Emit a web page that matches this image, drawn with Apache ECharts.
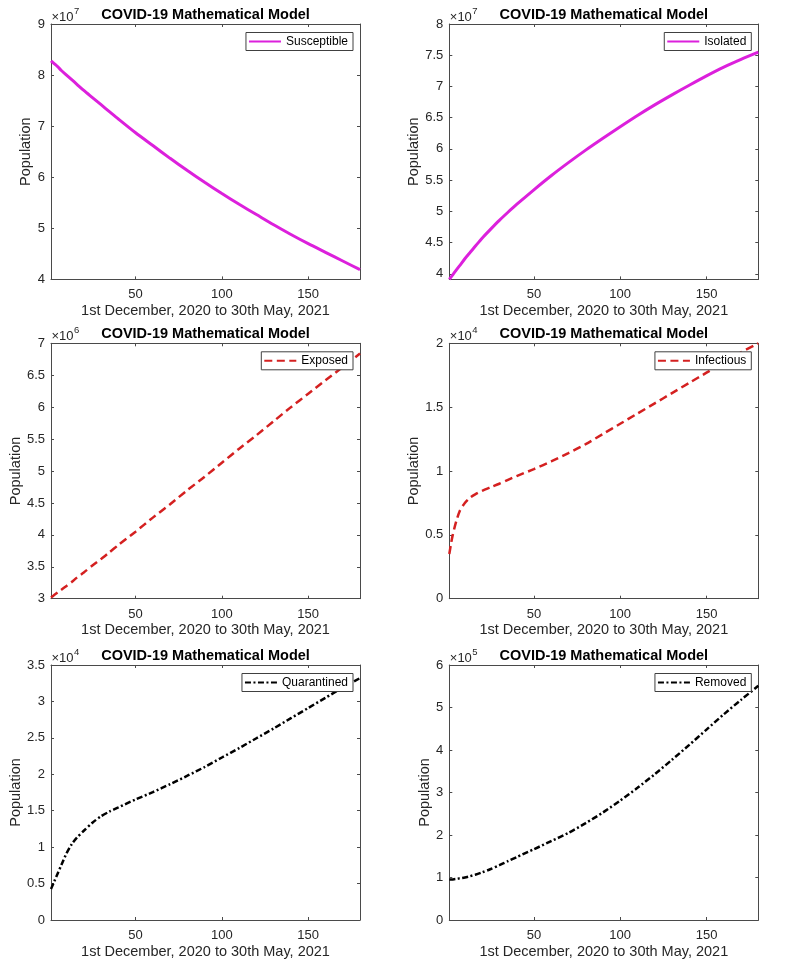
<!DOCTYPE html>
<html><head><meta charset="utf-8">
<script src="https://cdn.jsdelivr.net/npm/echarts@6/dist/echarts.min.js"></script>
<style>html,body{margin:0;padding:0;background:#fff}#c{width:797px;height:960px}</style>
</head><body><div id="c"></div>
<script>
// ---- data (values in the axis' displayed units, i.e. divided by the ×10^n exponent) ----
const days = [1,2,3,5,7,10,13,16,20,25,30,35,40,50,60,70,80,90,100,110,120,130,140,150,160,170,180];
const susceptible = [8.28,8.25,8.22,8.16,8.09,8.00,7.91,7.82,7.70,7.56,7.42,7.28,7.14,6.87,6.62,6.37,6.13,5.90,5.68,5.47,5.27,5.07,4.88,4.70,4.53,4.36,4.19];
const isolated    = [3.91,3.947,3.984,4.058,4.13,4.24,4.34,4.44,4.57,4.715,4.855,4.985,5.11,5.345,5.57,5.78,5.98,6.17,6.355,6.535,6.705,6.865,7.02,7.17,7.31,7.435,7.55];
const exposed     = [3.02,3.04,3.06,3.10,3.14,3.20,3.26,3.33,3.41,3.52,3.62,3.73,3.84,4.05,4.27,4.48,4.70,4.91,5.13,5.35,5.56,5.78,6.00,6.21,6.42,6.63,6.84];
const infectious  = [0.35,0.43,0.50,0.605,0.685,0.75,0.79,0.817,0.845,0.873,0.90,0.931,0.96,1.015,1.075,1.14,1.21,1.29,1.37,1.45,1.53,1.61,1.69,1.77,1.85,1.93,2.0];
const quarantined = [0.425,0.48,0.535,0.645,0.755,0.915,1.04,1.13,1.225,1.335,1.425,1.49,1.545,1.655,1.755,1.865,1.98,2.10,2.23,2.36,2.495,2.63,2.77,2.91,3.05,3.19,3.32];
const removed     = [0.95,0.952,0.955,0.965,0.98,1.0,1.03,1.065,1.12,1.2,1.29,1.385,1.48,1.665,1.855,2.05,2.28,2.53,2.81,3.11,3.43,3.77,4.12,4.48,4.84,5.18,5.51];

const xTicks = [50,100,150];
const yTicksS = [4,5,6,7,8,9];
const yTicksI = [4,4.5,5,5.5,6,6.5,7,7.5,8];
const yTicksE = [3,3.5,4,4.5,5,5.5,6,6.5,7];
const yTicksInf = [0,0.5,1,1.5,2];
const yTicksQ = [0,0.5,1,1.5,2,2.5,3,3.5];
const yTicksR = [0,1,2,3,4,5,6];

const seriesNames = ['Susceptible','Isolated','Exposed','Infectious','Quarantined','Removed'];
const exponents = ['7','7','6','4','4','5'];
const titleText = 'COVID-19 Mathematical Model';
const xLabel = '1st December, 2020 to 30th May, 2021';
const yLabel = 'Population';

// ---- panel configuration ----
const FONT = '"Liberation Sans", Arial, Helvetica, sans-serif';
const AX = '#4a4a4a';
const MAG = '#dc20dc', RED = '#d42020', BLK = '#000000';
const panels = [
  {values: susceptible, ticks: yTicksS, min: 4, max: 9, color: MAG, width: 3, dash: 'solid', left: 51, top: 24, nameGap: 14.5},
  {values: isolated, ticks: yTicksI, min: 3.91, max: 8, color: MAG, width: 3, dash: 'solid', left: 449.3, top: 24, nameGap: 24.5},
  {values: exposed, ticks: yTicksE, min: 3, max: 7, color: RED, width: 2.5, dash: [8,4.5], left: 51, top: 343.3, nameGap: 24.5},
  {values: infectious, ticks: yTicksInf, min: 0, max: 2, color: RED, width: 2.5, dash: [8,4.5], left: 449.3, top: 343.3, nameGap: 24.5},
  {values: quarantined, ticks: yTicksQ, min: 0, max: 3.5, color: BLK, width: 2.5, dash: [6,2.5,2,2.5], left: 51, top: 665, nameGap: 24.5},
  {values: removed, ticks: yTicksR, min: 0, max: 6, color: BLK, width: 2.5, dash: [6,2.5,2,2.5], left: 449.3, top: 665, nameGap: 13}
];
const W = 309, H = 255.4;

const grid = [], xAxis = [], yAxis = [], series = [], legend = [], title = [];
panels.forEach((p, i) => {
  grid.push({left: p.left, top: p.top, width: W, height: H, containLabel: false});
  const lineS = {show: true, onZero: false, lineStyle: {color: AX, width: 1}};
  xAxis.push({
    gridIndex: i, type: 'value', min: 1, max: 180, position: 'bottom',
    axisLine: lineS,
    axisTick: {show: true, inside: true, length: 3, customValues: xTicks, lineStyle: {color: AX}},
    axisLabel: {show: true, customValues: xTicks, margin: 9, fontSize: 13, color: '#262626', fontFamily: FONT},
    splitLine: {show: false},
    name: xLabel, nameLocation: 'middle', nameGap: 24,
    nameTextStyle: {fontSize: 14.5, color: '#262626', fontFamily: FONT}
  });
  xAxis.push({
    gridIndex: i, type: 'value', min: 1, max: 180, position: 'top',
    axisLine: lineS,
    axisTick: {show: true, inside: true, length: 3, customValues: xTicks, lineStyle: {color: AX}},
    axisLabel: {show: false}, splitLine: {show: false}
  });
  yAxis.push({
    gridIndex: i, type: 'value', min: p.min, max: p.max, position: 'left',
    axisLine: lineS,
    axisTick: {show: true, inside: true, length: 3, customValues: p.ticks, lineStyle: {color: AX}},
    axisLabel: {show: true, customValues: p.ticks, margin: 6, fontSize: 13, color: '#262626', fontFamily: FONT},
    splitLine: {show: false},
    name: yLabel, nameLocation: 'middle', nameRotate: 90, nameGap: p.nameGap,
    nameTextStyle: {fontSize: 14.5, color: '#262626', fontFamily: FONT}
  });
  yAxis.push({
    gridIndex: i, type: 'value', min: p.min, max: p.max, position: 'right',
    axisLine: lineS,
    axisTick: {show: true, inside: true, length: 3, customValues: p.ticks, lineStyle: {color: AX}},
    axisLabel: {show: false}, splitLine: {show: false}
  });
  series.push({
    type: 'line', name: seriesNames[i], xAxisIndex: 2*i, yAxisIndex: 2*i,
    data: days.map((d, k) => [d, p.values[k]]),
    symbol: 'none', showSymbol: false, smooth: 0.25,
    lineStyle: {color: p.color, width: p.width, type: p.dash},
    itemStyle: {color: p.color}, z: 2
  });
  legend.push({
    data: [seriesNames[i]], right: 797 - (p.left + W) + 7, top: p.top + 8.5,
    orient: 'horizontal', itemWidth: 32, itemHeight: 12, selectedMode: false,
    padding: [3, 5, 3, 2], borderColor: '#404040', borderWidth: 1, backgroundColor: '#fff', borderRadius: 0,
    itemStyle: {color: 'rgba(0,0,0,0)', borderWidth: 0, opacity: 0},
    textStyle: {fontSize: 12, color: '#000', fontFamily: FONT}, z: 5
  });
  title.push({
    text: titleText, left: p.left + W/2, top: p.top - 17, textAlign: 'center', padding: 0,
    textStyle: {fontSize: 14.5, fontWeight: 'bold', color: '#000', fontFamily: FONT, lineHeight: 16}
  });
  title.push({
    text: '×10', left: p.left + 0.5, top: p.top - 14.5, padding: 0,
    textStyle: {fontSize: 13, fontWeight: 'normal', color: '#262626', fontFamily: FONT, lineHeight: 15}
  });
  title.push({
    text: exponents[i], left: p.left + 23, top: p.top - 18, padding: 0,
    textStyle: {fontSize: 9.5, fontWeight: 'normal', color: '#262626', fontFamily: FONT, lineHeight: 11}
  });
});

const chart = echarts.init(document.getElementById('c'), null, {renderer: 'canvas'});
chart.setOption({
  backgroundColor: '#fff', animation: false,
  title, legend, grid, xAxis, yAxis, series
});
</script></body></html>
